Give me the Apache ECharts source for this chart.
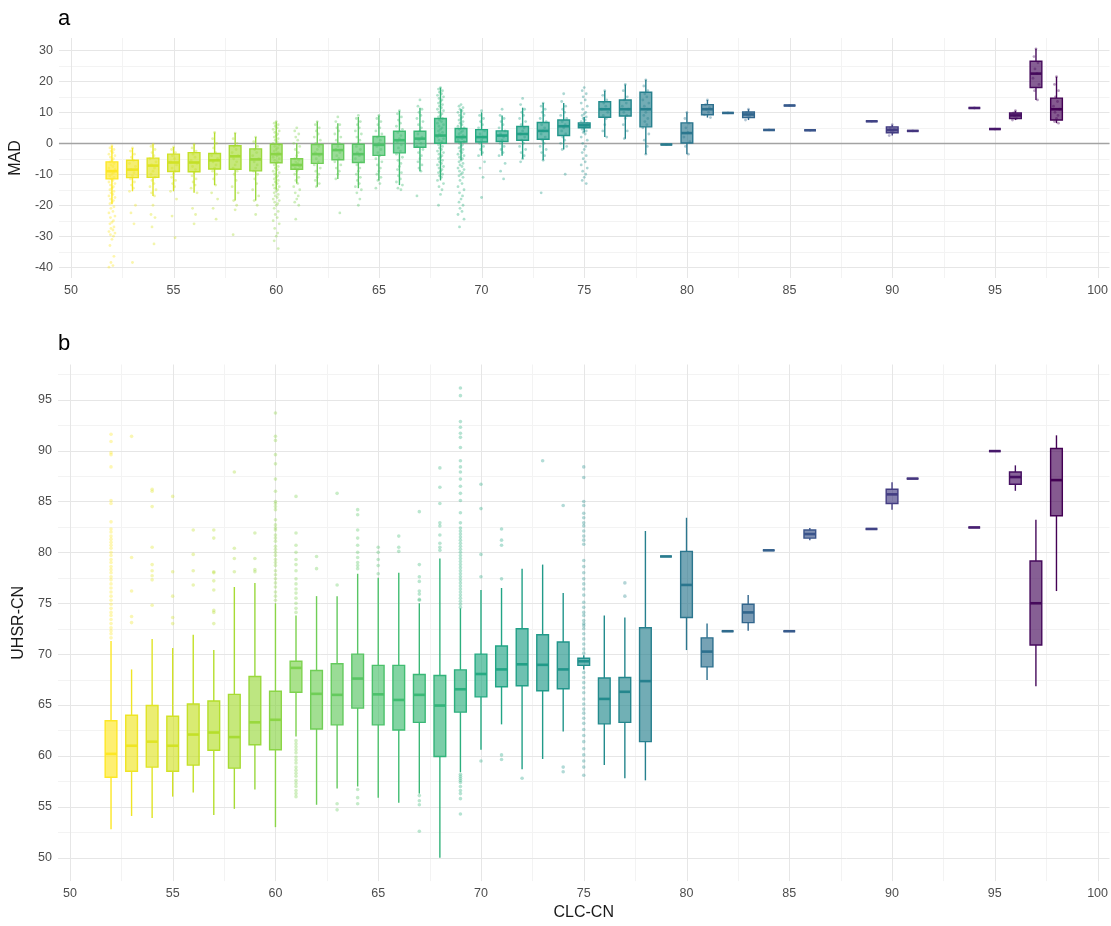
<!DOCTYPE html>
<html>
<head>
<meta charset="utf-8">
<script src="https://cdn.jsdelivr.net/npm/echarts@6/dist/echarts.min.js"></script>
<style>
  html, body { margin: 0; padding: 0; background: #ffffff; }
  #chart { width: 1111px; height: 926px; }
</style>
</head>
<body>
<div id="chart"></div>
<script>
// CLC-CN classes present in the data
const clcCN = [52,53,54,55,56,57,58,59,60,61,62,63,64,65,66,67,68,69,70,71,72,73,74,75,76,77,78,79,80,81,82,83,84,85,86,89,90,91,94,95,96,97,98];

// Panel a: MAD box statistics per class
const madLow    = [-19.7,-15.5,-17,-15.5,-16,-13.5,-18.5,-18.5,-15,-13,-14,-11.5,-14.5,-12,-13.5,-9,-12,-5.5,-4,-4,-5,-5.5,-2,3.5,2,1.5,-3.5,-0.4,-3.5,8.3,9.8,7.5,4.3,12.2,4.2,7.1,2.5,4.0,11.4,4.6,7.5,14,6.5];
const madQ1     = [-11.5,-11.1,-11,-9.1,-9.2,-8.3,-8.4,-8.9,-6.3,-8.4,-6.5,-5.3,-6.2,-3.9,-3.1,-1.3,0,0.4,0.4,0.6,1.0,1.3,2.5,5.0,8.4,8.8,5.3,-0.4,0.1,9.2,9.8,8.3,4.3,12.2,4.2,7.1,3.4,4.0,11.4,4.6,8.0,18,7.5];
const madMedian = [-9,-8.5,-7.2,-6.2,-6.2,-5.5,-4.2,-5.2,-3.5,-7,-3.5,-2.2,-3.5,-0.5,1.0,1.5,2.5,2.0,2.0,2.5,3.0,4.0,5.5,5.8,11,11,11,-0.4,3.3,11,9.8,9.3,4.3,12.2,4.2,7.1,4.3,4.0,11.4,4.6,9.0,22.5,11];
const madQ3     = [-6,-5.5,-4.8,-3.5,-3.0,-3.3,-0.8,-1.8,-0.3,-5,-0.4,-0.3,-0.3,2.2,3.9,3.9,8,4.8,4.4,4.0,5.4,6.7,7.5,6.6,13.4,14,16.5,-0.4,6.6,12.5,9.8,10.1,4.3,12.2,4.2,7.1,5.3,4.0,11.4,4.6,9.8,26.5,14.6];
const madHigh   = [-0.8,-1.5,-0.3,-1.2,-0.3,3.5,3.3,2.0,7.0,0.1,7.0,6.5,8.5,9.0,10.5,11.5,18,11,10,9,11.5,13,13,8.5,17,19,20.5,-0.4,10,14,9.8,11,4.3,12.2,4.2,7.1,6,4.0,11.4,4.6,10.5,30.5,21.5];

// Panel a: individual MAD observations per class
const madPoints = [
  [-0.8,-1.5,-2,-2.5,-3,-3.5,-4,-4.5,-5,-5.5,-6,-6.5,-7,-7.5,-8,-8.5,-9,-9.5,-10,-10.5,-11,-11.5,-12,-12.5,-13,-13.5,-14,-14.5,-15,-15.5,-16,-16.5,-17,-17.5,-18,-18.5,-19,-19.5,-20.5,-21,-22,-22.5,-23.5,-24,-25,-25.5,-26,-27,-27.5,-28,-28.5,-29,-29.5,-30,-31,-33,-36.5,-38.5,-39.5,-40],
  [-1.5,-2.5,-3.5,-4.5,-5.5,-6.5,-7.5,-8.5,-9.5,-10.5,-11.5,-12.5,-13.5,-14.5,-15.5,-20,-22.5,-26,-38.5],
  [-0.3,-1,-2,-3,-4,-5,-6,-7,-8,-9,-10,-11,-12,-13,-14,-15,-16,-17,-20,-23,-24,-27,-32.5],
  [-1.2,-2,-3,-4,-5,-6,-7,-8,-9,-10,-11,-12,-13,-14,-15.5,-18,-23.5,-30.5],
  [-0.3,-1.5,-2.5,-3.5,-4.5,-5.5,-6.5,-7.5,-8.5,-9.5,-10.5,-11.5,-12.5,-13.5,-14.5,-16,-21,-23,-26],
  [3.5,1.5,0,-1.5,-3,-4,-5,-6,-7,-8,-9,-10,-11.5,-13.5,-16,-18,-21,-24.5],
  [3.3,1.5,0,-1,-2,-3,-4,-5,-6,-7,-8,-9,-10,-12,-14,-16,-18.5,-20,-21.5,-29.5],
  [2,0.5,-1,-2,-3,-4,-5,-6,-7,-8,-9,-10,-11.5,-13,-15,-17,-18.5,-20,-23],
  [7,6.5,6,5.5,5,4.5,4,3.5,3,2.5,2,1.5,1,0.5,0,-0.5,-1,-1.5,-2,-2.5,-3,-3.5,-4,-4.5,-5,-5.5,-6,-6.5,-7,-7.5,-8,-8.5,-9,-9.5,-10,-10.5,-11,-11.5,-12,-12.5,-13,-13.5,-14,-14.5,-15,-15.5,-16,-16.5,-17,-17.5,-18,-18.5,-19,-19.5,-20,-21,-22,-23,-24,-25,-26,-27.5,-29,-30,-31.5,-34],
  [5,4,3,2,1,0,-1,-2,-3,-4,-5,-5.5,-6,-6.5,-7,-7.5,-8,-8.5,-9,-10,-11,-12,-13,-14,-15,-16,-17,-18,-19,-20,-24.5],
  [7,6,5,4,3,2,1,0,-1,-2,-3,-4,-5,-6,-7,-8,-9,-10,-11,-12,-13,-14],
  [8.5,7,6,5,4,3,2,1,0,-1,-2,-3,-4,-5,-6,-7,-8,-9,-10,-11.5,-22.5],
  [9,8,7,6,5,4,3,2,1,0,-1,-2,-3,-4,-5,-6,-7,-8,-9,-10,-11,-12,-13,-14,-15,-16,-18,-20],
  [9,8,7,6,5,4,3,2,1,0,-1,-2,-3,-4,-5,-6,-7,-8,-9,-10,-11,-12,-13,-14.5],
  [10.5,9.5,8.5,7.5,6.5,5.5,4.5,3.5,2.5,1.5,0.5,-0.5,-1.5,-2.5,-3.5,-4.5,-5.5,-6.5,-7.5,-8.5,-9.5,-10.5,-11.5,-12.5,-13.5,-14.5,-15],
  [14,12,11,10,9,8,7,6,5,4,3,2,1,0,-1,-2,-3,-4,-5,-6,-7,-8,-9,-17],
  [18,17.5,17,16.5,16,15.5,15,14.5,14,13.5,13,12.5,12,11.5,11,10.5,10,9.5,9,8.5,8,7.5,7,6.5,6,5.5,5,4.5,4,3.5,3,2.5,2,1.5,1,0.5,0,-0.5,-1,-1.5,-2,-2.5,-3,-3.5,-4,-4.5,-5,-5.5,-6,-6.5,-7,-7.5,-8,-8.5,-9,-9.5,-10,-10.5,-11,-12,-13,-14,-15,-16.5,-20],
  [12.5,12,11.5,11,10.5,10,9.5,9,8.5,8,7.5,7,6.5,6,5.5,5,4.5,4,3.5,3,2.5,2,1.5,1,0.5,0,-0.5,-1,-1.5,-2,-2.5,-3,-3.5,-4,-4.5,-5,-5.5,-6,-6.5,-7,-7.5,-8,-8.5,-9,-9.5,-10,-10.5,-11,-12,-13,-14,-15,-16,-17,-18,-19,-20,-21,-22,-23,-24.5,-27],
  [10.5,9,8,7,6,5,4,3,2,1,0,-1,-2,-3,-4,-6,-8,-11,-17.5],
  [11,9,8,7,6,5,4,3,2,1,0,-1,-2,-3,-4,-6.5,-9,-11.5],
  [14.5,12.5,11,10,9,8,7,6,5,4,3,2,1,0,-1,-2,-3,-4,-5,-6],
  [13,12,11,10,9,8,7,6,5,4,3,2,1,0,-1,-2,-3,-4,-5.5,-16],
  [16,13.5,12,11,10,9,8,7,6,5,4,3,2,1,0,-1,-2,-10],
  [18,17,16,15,14,13,12,11,10,9.5,9,8.5,8,7.5,7,6.5,6,5.5,5,4.5,4,3.5,3,2,1,0,-1,-2,-3,-4,-5,-6,-7,-8,-9,-10,-11,-12,-13],
  [17,15.5,14,13,12,11,10,9,8,6,4,2],
  [19,17,15,14,13,12,11,10,9,8,6,4,1.5],
  [20.5,18.5,17,16,15,14,13,12,11,10,9,8,7,6,5,3,1,-1,-3.5],
  [-0.4],
  [10,8,6.5,5,3.5,2,0.5,-1,-3.5],
  [14,12.5,11.5,11,10,9.2,8.3],
  [9.8],
  [11,10,9.5,9,8.5,7.5],
  [4.3],
  [12.2],
  [4.2],
  [7.1],
  [6,5,4.5,4,3.5,2.5],
  [4.0],
  [11.4],
  [4.6],
  [10.5,9.8,9.2,8.8,8,7.5],
  [30.5,28,26,24,22.5,21,19,17,14],
  [21.5,19,17,15,13.5,12,11,10,9,8,7,6.5]
];

// Panel b: UHSR-CN box statistics per class
const uhsrLow    = [52.8,54.1,53.9,56.0,56.4,54.2,54.8,56.7,53.0,61.9,55.2,56.8,57.0,55.9,55.4,56.3,50.0,58.4,60.6,63.1,58.7,59.7,62.4,68.5,59.1,57.8,57.6,79.6,70.4,67.45,72.25,72.3,80.2,72.25,81.2,82.3,84.2,87.25,82.45,89.95,86.05,66.85,76.2];
const uhsrQ1     = [57.9,58.5,58.9,58.5,59.1,60.55,58.8,61.1,60.6,66.25,62.65,63.05,64.7,63.05,62.55,63.3,59.95,64.3,65.8,66.8,66.9,66.4,66.6,68.9,63.15,63.3,61.4,79.6,73.6,68.75,72.25,73.1,80.2,72.25,81.4,82.3,84.8,87.25,82.45,89.95,86.7,70.9,83.6];
const uhsrMedian = [60.2,61.0,61.4,61.0,62.1,62.3,61.85,63.3,63.55,68.65,66.1,66.0,67.6,66.05,65.5,66.0,64.95,66.55,68.05,68.5,69.0,68.95,68.5,69.3,65.6,66.3,67.35,79.6,76.8,70.25,72.25,74.1,80.2,72.25,81.8,82.3,85.7,87.25,82.45,89.95,87.4,75.0,87.1];
const uhsrQ3     = [63.45,64.0,64.95,63.9,65.1,65.4,66.05,67.8,66.35,69.3,68.4,69.05,70.0,68.9,68.9,68.0,67.9,68.45,70.0,70.8,72.5,71.9,71.2,69.6,67.65,67.7,72.6,79.6,80.1,71.6,72.25,74.9,80.2,72.25,82.2,82.3,86.2,87.25,82.45,89.95,87.9,79.15,90.2];
const uhsrHigh   = [71.3,68.5,71.5,70.6,71.9,70.4,76.6,77.0,75.0,73.8,75.7,75.7,77.9,77.5,78.0,75.0,79.4,74.5,76.3,76.5,78.4,78.8,76.0,69.9,73.8,73.6,82.1,79.6,83.4,73.0,72.25,75.8,80.2,72.25,82.4,82.3,86.9,87.25,82.45,89.95,88.55,83.2,91.5];

// Panel b: outlying UHSR-CN observations per class
const uhsrOutliers = [
  [71.6,72.0,72.3,72.6,73.0,73.4,73.8,74.1,74.5,74.9,75.3,75.7,76.1,76.5,76.9,77.3,77.6,78.0,78.3,78.6,79.0,79.3,79.7,80.0,80.4,80.7,81.0,81.3,81.6,82.0,82.3,83.0,84.8,85.1,88.4,89.6,89.8,90.9,91.6],
  [73.1,73.7,76.2,79.5,91.4],
  [74.8,77.3,77.7,78.2,78.8,80.5,84.5,86.0,86.2],
  [73.0,73.6,75.7,78.1,85.5],
  [76.8,78.2,79.8,82.2],
  [73.0,74.1,74.3,76.3,77.2,78.0,78.1,81.4,82.2],
  [78.1,79.4,80.4,87.9],
  [78.1,78.3,79.4,81.9],
  [75.3,75.7,76.1,76.6,77.0,77.4,77.8,78.2,78.7,79.0,79.3,79.7,80.0,80.3,80.6,81.1,81.4,81.7,82.2,82.4,82.7,83.2,84.2,84.5,84.8,85.0,86.0,87.2,88.7,89.6,91.0,91.4,93.7],
  [56.0,56.3,56.6,57.0,57.3,57.6,58.0,58.3,58.6,58.9,59.3,59.6,59.9,60.3,60.6,60.9,61.2,61.5,74.1,74.5,75.0,75.5,76.0,76.4,76.9,77.4,78.2,78.8,79.3,80.0,80.7,81.9,85.5],
  [78.4,79.6],
  [54.7,55.3,76.8,85.8],
  [55.3,55.9,56.7,78.4,78.7,79.0,79.5,80.0,80.7,81.4,82.2,83.7,84.2],
  [77.9,78.7,79.3,80.0,80.5],
  [80.1,80.5,81.6],
  [52.6,55.2,55.6,56.1,75.3,75.4,75.9,76.2,77.15,77.6,78.8,84.0],
  [80.2,80.5,80.9,81.7,82.6,82.9,84.8,86.4,88.3],
  [54.3,55.8,56.3,56.6,57.0,57.4,57.6,57.8,58.0,58.2,74.6,74.9,75.2,75.5,75.8,76.1,76.4,76.7,77.0,77.3,77.6,77.9,78.2,78.5,78.8,79.1,79.4,79.7,80.0,80.3,80.6,80.9,81.2,81.5,81.8,82.1,82.4,82.9,83.9,85.1,85.8,86.5,87.2,87.9,88.4,89.0,90.3,91.3,91.7,92.3,92.85,95.4,96.15],
  [59.5,77.6,79.8,84.3,86.7],
  [59.65,60.1,77.4,80.7,81.2,82.3],
  [57.8],
  [89.0],
  [58.45,58.9,84.6],
  [58.1,58.9,59.5,60.1,60.7,61.4,62.0,62.6,63.2,63.7,64.2,64.6,65.1,65.6,66.2,66.7,67.2,67.7,68.2,70.1,70.5,71.0,71.5,72.0,72.5,72.8,73.0,73.3,73.8,74.1,74.6,75.1,75.8,76.4,76.9,77.4,78.0,78.6,79.2,80.8,81.2,81.6,82.1,82.6,82.9,83.4,83.85,84.6,85.0,87.35,88.4],
  [],
  [75.7,77.0],
  [], [], [], [], [], [], [], [], [], [], [], [], [], [], [], [], []
];

// Axis tick values
const xTicks = [50,55,60,65,70,75,80,85,90,95,100];
const xMinorTicks = [52.5,57.5,62.5,67.5,72.5,77.5,82.5,87.5,92.5,97.5];
const madTicks = [-40,-30,-20,-10,0,10,20,30];
const madMinorTicks = [-35,-25,-15,-5,5,15,25];
const uhsrTicks = [50,55,60,65,70,75,80,85,90,95];
const uhsrMinorTicks = [52.5,57.5,62.5,67.5,72.5,77.5,82.5,87.5,92.5,97.5];

// Reversed viridis palette along the CLC-CN range
const VIRIDIS = ['#440154','#482475','#414487','#355F8D','#2A788E','#21908D','#22A884','#42BE71','#7AD151','#BBDF27','#FDE725'];
const X_LO = Math.min(...clcCN), X_HI = Math.max(...clcCN);
function hexToRgb(h) {
  return [parseInt(h.slice(1,3),16), parseInt(h.slice(3,5),16), parseInt(h.slice(5,7),16)];
}
function viridisRgb(x) {
  const t = (X_HI - x) / (X_HI - X_LO) * (VIRIDIS.length - 1);
  const i = Math.min(Math.floor(t), VIRIDIS.length - 2);
  const f = t - i;
  const a = hexToRgb(VIRIDIS[i]), b = hexToRgb(VIRIDIS[i + 1]);
  return a.map((c, k) => Math.round(c + (b[k] - c) * f));
}
function viridisAt(x, alpha) {
  const c = viridisRgb(x);
  return alpha == null ? `rgb(${c[0]},${c[1]},${c[2]})` : `rgba(${c[0]},${c[1]},${c[2]},${alpha})`;
}

const BOX_WIDTH = 0.57;          // in CLC-CN units
const JITTER_PX = [0, -2, 2, -1, 1, -3, 3, -1.5, 1.5];
const FONT = '"Liberation Sans", Arial, sans-serif';

function boxData(lo, q1, md, q3, hi) {
  return clcCN.map((x, i) => [x, lo[i], q1[i], md[i], q3[i], hi[i]]);
}

function renderBox(params, api) {
  const x = api.value(0);
  const lo = api.coord([x, api.value(1)]);
  const q1 = api.coord([x, api.value(2)]);
  const md = api.coord([x, api.value(3)]);
  const q3 = api.coord([x, api.value(4)]);
  const hi = api.coord([x, api.value(5)]);
  const half = api.size([BOX_WIDTH, 0])[0] / 2;
  const stroke = viridisAt(x);
  const fill = viridisAt(x, 0.65);
  return {
    type: 'group',
    children: [
      { type: 'line', shape: { x1: lo[0], y1: lo[1], x2: q1[0], y2: q1[1] }, style: { stroke, lineWidth: 1.4 } },
      { type: 'line', shape: { x1: q3[0], y1: q3[1], x2: hi[0], y2: hi[1] }, style: { stroke, lineWidth: 1.4 } },
      { type: 'rect', shape: { x: q1[0] - half, y: q3[1], width: half * 2, height: q1[1] - q3[1] }, style: { fill, stroke, lineWidth: 1.4 } },
      { type: 'line', shape: { x1: md[0] - half, y1: md[1], x2: md[0] + half, y2: md[1] }, style: { stroke, lineWidth: 2.6 } }
    ]
  };
}

function pointData(lists, jitter) {
  const out = [];
  lists.forEach((vals, i) => {
    const x = clcCN[i];
    const color = viridisAt(x);
    vals.forEach((v, k) => {
      out.push({
        value: [x, v],
        itemStyle: { color },
        symbolOffset: jitter ? [JITTER_PX[k % JITTER_PX.length], 0] : [0, 0]
      });
    });
  });
  return out;
}

// Reference lines drawn through the axes' own scales
function lineSeries(gridIdx, values, dir, color, width, z) {
  return {
    type: 'custom',
    xAxisIndex: gridIdx,
    yAxisIndex: gridIdx,
    silent: true,
    z,
    data: values.map(v => [v, v]),
    encode: dir === 'v' ? { x: 0 } : { y: 1 },
    renderItem(params, api) {
      const cs = params.coordSys;
      const p = api.coord([api.value(0), api.value(1)]);
      const shape = dir === 'v'
        ? { x1: Math.round(p[0]) + 0.5, y1: cs.y, x2: Math.round(p[0]) + 0.5, y2: cs.y + cs.height }
        : { x1: cs.x, y1: Math.round(p[1]) + 0.5, x2: cs.x + cs.width, y2: Math.round(p[1]) + 0.5 };
      return { type: 'line', shape, style: { stroke: color, lineWidth: width } };
    }
  };
}

const MAJOR = '#e6e6e6', MINOR = '#f3f3f3';

const axisLabelStyle = { color: '#4d4d4d', fontSize: 12.5, fontFamily: FONT };
const nameStyle = { color: '#1a1a1a', fontSize: 16, fontFamily: FONT };

function xAxisFor(gridIdx, withName) {
  return {
    type: 'value', gridIndex: gridIdx, min: 49.42, max: 100.58,
    axisLine: { show: false }, axisTick: { show: false }, splitLine: { show: false },
    axisLabel: Object.assign({ customValues: xTicks, margin: 6 }, axisLabelStyle),
    name: withName ? 'CLC-CN' : '', nameLocation: 'middle', nameGap: 17, nameTextStyle: nameStyle
  };
}

const chart = echarts.init(document.getElementById('chart'), null, { renderer: 'canvas' });

chart.setOption({
  animation: false,
  backgroundColor: '#ffffff',
  title: [
    { text: 'a', left: 53, top: 3, textStyle: { fontSize: 22, fontWeight: 'normal', color: '#000', fontFamily: FONT } },
    { text: 'b', left: 53, top: 328, textStyle: { fontSize: 22, fontWeight: 'normal', color: '#000', fontFamily: FONT } }
  ],
  grid: [
    { left: 58, width: 1053, top: 38, height: 240 },
    { left: 58, width: 1053, top: 364.5, height: 521 }
  ],
  xAxis: [xAxisFor(0, false), xAxisFor(1, true)],
  yAxis: [
    {
      type: 'value', gridIndex: 0, min: -43.5, max: 34,
      axisLine: { show: false }, axisTick: { show: false }, splitLine: { show: false },
      axisLabel: Object.assign({ customValues: madTicks, margin: 6 }, axisLabelStyle),
      name: 'MAD', nameLocation: 'middle', nameGap: 31, nameTextStyle: nameStyle
    },
    {
      type: 'value', gridIndex: 1, min: 47.7, max: 98.46,
      axisLine: { show: false }, axisTick: { show: false }, splitLine: { show: false },
      axisLabel: Object.assign({ customValues: uhsrTicks, margin: 6 }, axisLabelStyle),
      name: 'UHSR-CN', nameLocation: 'middle', nameGap: 31, nameTextStyle: nameStyle
    }
  ],
  series: [
    // panel a gridlines
    lineSeries(0, madMinorTicks, 'h', MINOR, 1, 0),
    lineSeries(0, xMinorTicks, 'v', MINOR, 1, 0),
    lineSeries(0, madTicks, 'h', MAJOR, 1, 0),
    lineSeries(0, xTicks, 'v', MAJOR, 1, 0),
    lineSeries(0, [0], 'h', '#a3a3a3', 1.3, 1),
    // panel b gridlines
    lineSeries(1, uhsrMinorTicks, 'h', MINOR, 1, 0),
    lineSeries(1, xMinorTicks, 'v', MINOR, 1, 0),
    lineSeries(1, uhsrTicks, 'h', MAJOR, 1, 0),
    lineSeries(1, xTicks, 'v', MAJOR, 1, 0),
    // panel a boxes and observations
    {
      type: 'custom', name: 'MAD', xAxisIndex: 0, yAxisIndex: 0, z: 2,
      data: boxData(madLow, madQ1, madMedian, madQ3, madHigh),
      encode: { x: 0, y: [1, 2, 3, 4, 5] },
      renderItem: renderBox
    },
    {
      type: 'scatter', xAxisIndex: 0, yAxisIndex: 0, z: 3, silent: true,
      symbol: 'circle', symbolSize: 2.8,
      itemStyle: { opacity: 0.38 },
      data: pointData(madPoints, true)
    },
    // panel b boxes and outliers
    {
      type: 'custom', name: 'UHSR-CN', xAxisIndex: 1, yAxisIndex: 1, z: 2,
      data: boxData(uhsrLow, uhsrQ1, uhsrMedian, uhsrQ3, uhsrHigh),
      encode: { x: 0, y: [1, 2, 3, 4, 5] },
      renderItem: renderBox
    },
    {
      type: 'scatter', xAxisIndex: 1, yAxisIndex: 1, z: 3, silent: true,
      symbol: 'circle', symbolSize: 3.6,
      itemStyle: { opacity: 0.35 },
      data: pointData(uhsrOutliers, false)
    }
  ]
});
</script>
</body>
</html>
